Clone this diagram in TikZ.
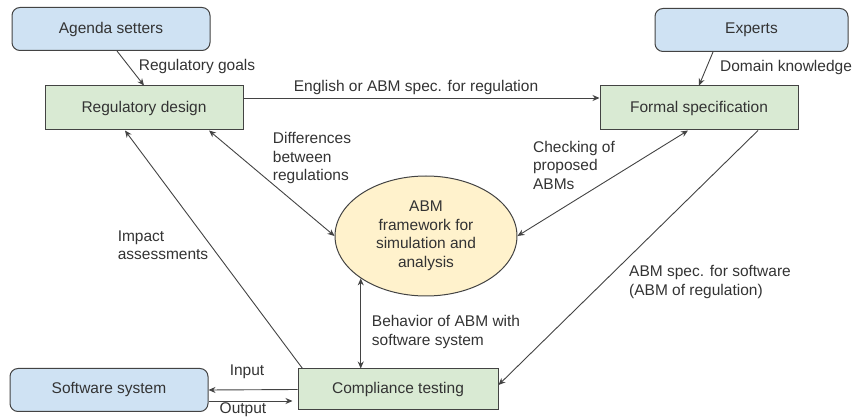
\documentclass[tikz,border=0pt]{standalone}
\usepackage{fontspec}
\setmainfont{Liberation Sans}
\usetikzlibrary{arrows.meta,shapes.geometric}
\definecolor{boxline}{HTML}{434343}
\definecolor{txtgray}{HTML}{333333}
\definecolor{actorblue}{HTML}{CFE2F3}
\definecolor{taskgreen}{HTML}{D9EAD3}
\definecolor{coreyellow}{HTML}{FFF2CC}

\begin{document}
\begin{tikzpicture}[x=1pt,y=-1pt,
    font=\fontsize{15.5}{18.5}\selectfont, text=txtgray,
    actor/.style={draw=boxline, line width=1pt, fill=actorblue, rounded corners=8pt, minimum width=198pt, minimum height=43pt, inner sep=0pt},
    task/.style={draw=boxline, line width=1pt, fill=taskgreen, minimum width=198pt, minimum height=44pt, inner sep=0pt},
    flow/.style={draw=boxline, line width=0.9pt, -{Stealth[length=7pt,width=6pt]}},
    both/.style={flow, {Stealth[length=7pt,width=6pt]}-{Stealth[length=7pt,width=6pt]}},
    lbl/.style={align=left, inner sep=0pt}]
\useasboundingbox (0,0) rectangle (855,419);
\node[actor] (agenda) at (111,29) {Agenda setters};
\node[actor, minimum width=193pt] (experts) at (751.5,30) {Experts};
\node[task] (regdesign) at (144,108) {Regulatory design};
\node[task] (formalspec) at (699,108) {Formal specification};
\node[ellipse, draw=boxline, line width=1pt, fill=coreyellow, minimum width=182pt, minimum height=120pt, inner sep=0pt, align=center] (abm) at (426,236) {ABM\\framework for\\simulation and\\analysis};
\node[actor] (software) at (109,390) {Software system};
\node[task, minimum width=200pt, minimum height=41pt] (compliance) at (398,389.5) {Compliance testing};

\draw[flow] ([xshift=6pt]agenda.south) -- (regdesign.north);
\draw[flow] ([xshift=-38.5pt]experts.south) -- (formalspec.north);
\draw[flow] ([yshift=10pt]regdesign.east) -- ([yshift=10pt]formalspec.west);
\draw[both] ([xshift=65pt]regdesign.south) -- (abm.west);
\draw[both] ([xshift=-11pt]formalspec.south) -- (abm.east);
\draw[flow] ([xshift=5pt]compliance.north west) -- ([xshift=-19pt]regdesign.south);
\draw[flow] ([xshift=59pt]formalspec.south) -- ([yshift=4.5pt]compliance.east);
\draw[both] (abm.213) -- (abm.213 |- compliance.north);
\draw[flow] (compliance.west) -- (software.east);
\draw[flow, shorten >=5pt] ([yshift=-11pt]software.east) -- ([yshift=-11pt]software.east -| compliance.west);

\node[lbl] (goals) at (197,66) {Regulatory goals};
\node[lbl] (domain) at (786,67) {Domain knowledge};
\node[lbl] (english) at (416,87) {English or ABM spec. for regulation};
\node[lbl] (differences) at (312,158) {Differences\\between\\regulations};
\node[lbl] (checking) at (574,165) {Checking of\\proposed\\ABMs};
\node[lbl] (impact) at (163,245) {Impact\\assessments};
\node[lbl] (absoftware) at (710,282) {ABM spec. for software\\(ABM of regulation)};
\node[lbl] (behavior) at (446,332) {Behavior of ABM with\\software system};
\node[lbl] (input) at (247,372) {Input};
\node[lbl] (output) at (243,410) {Output};
\end{tikzpicture}
\end{document}
